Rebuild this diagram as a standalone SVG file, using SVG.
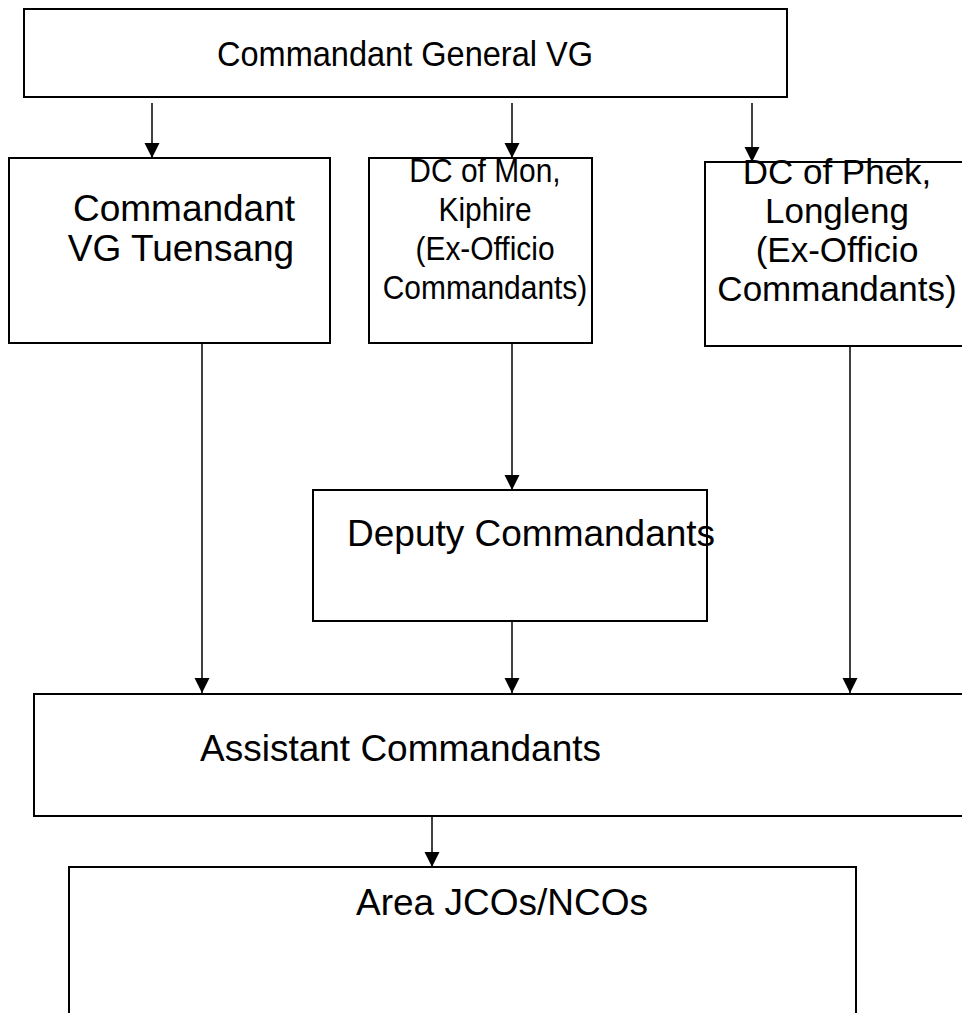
<svg xmlns="http://www.w3.org/2000/svg" width="962" height="1013" viewBox="0 0 962 1013">
<style>
.box{fill:#fff;stroke:#000;stroke-width:2}
.t{font-family:"Liberation Sans",Arial,sans-serif;font-size:37px;fill:#000}
.s{font-size:34px}
.p{font-size:35px}
.c{text-anchor:middle}
.ln{stroke:#000;stroke-width:1.5;fill:none;marker-end:url(#ah)}
</style>
<defs>
<marker id="ah" markerUnits="userSpaceOnUse" markerWidth="16" markerHeight="16" refX="15" refY="8" orient="auto" viewBox="0 0 16 16">
<path d="M0,0.5 L15,8 L0,15.5 Z" fill="#000"/>
</marker>
</defs>
<rect width="962" height="1013" fill="#fff"/>
<g id="connectors">
<line class="ln" x1="152" y1="103" x2="152" y2="158"/>
<line class="ln" x1="512" y1="103" x2="512" y2="158"/>
<line class="ln" x1="752" y1="103" x2="752" y2="162"/>
<line class="ln" x1="202" y1="343" x2="202" y2="693"/>
<line class="ln" x1="512" y1="343" x2="512" y2="490"/>
<line class="ln" x1="512" y1="621" x2="512" y2="693"/>
<line class="ln" x1="850" y1="346" x2="850" y2="693"/>
<line class="ln" x1="432" y1="816" x2="432" y2="867"/>
</g>
<g id="n-cg">
<rect class="box" x="24" y="9" width="763" height="88"/>
<g transform="translate(405,0) scale(0.93,1)">
<text class="t c" x="0" y="66" style="font-size:35px">Commandant General VG</text>
</g>
</g>
<g id="n-tuensang">
<rect class="box" x="9" y="158" width="321" height="185"/>
<text class="t c" x="184" y="221">Commandant</text>
<text class="t c" x="181" y="261">VG Tuensang</text>
</g>
<g id="n-dcmon">
<rect class="box" x="369" y="158" width="223" height="185"/>
<g transform="translate(485,0) scale(0.88,1)">
<text class="t s c" x="0" y="182">DC of Mon,</text>
<text class="t s c" x="0" y="221">Kiphire</text>
<text class="t s c" x="0" y="260">(Ex-Officio</text>
<text class="t s c" x="0" y="299">Commandants)</text>
</g>
</g>
<g id="n-dcphek">
<rect class="box" x="705" y="162" width="270" height="184"/>
<text class="t p c" x="837" y="184">DC of Phek,</text>
<text class="t p c" x="837" y="223">Longleng</text>
<text class="t p c" x="837" y="262">(Ex-Officio</text>
<text class="t p c" x="837" y="301">Commandants)</text>
</g>
<g id="n-deputy">
<rect class="box" x="313" y="490" width="394" height="131"/>
<text class="t" x="347" y="546">Deputy Commandants</text>
</g>
<g id="n-assistant">
<rect class="box" x="34" y="694" width="940" height="122"/>
<text class="t" x="200" y="761">Assistant Commandants</text>
</g>
<g id="n-area">
<rect class="box" x="69" y="867" width="787" height="160"/>
<text class="t" x="356" y="915">Area JCOs/NCOs</text>
</g>
</svg>
